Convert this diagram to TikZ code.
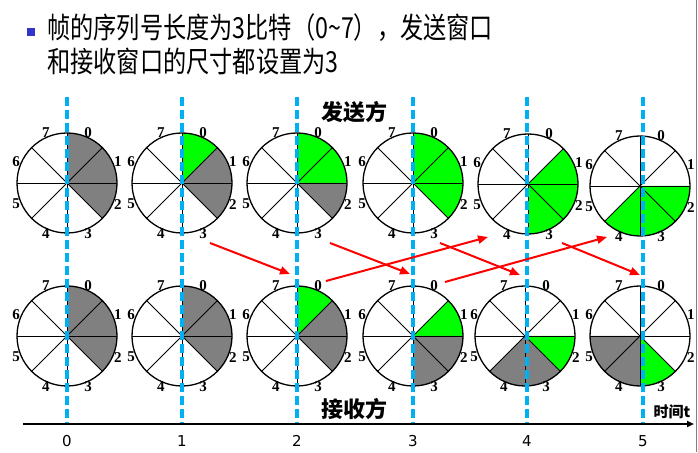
\documentclass[tikz,border=0pt]{standalone}
\usepackage{fontspec}
\setmainfont{Liberation Serif}
\newfontfamily\cjkt{Noto Sans CJK SC}[FakeStretch=0.8]
\newfontfamily\cjk{Noto Sans CJK SC}
\newfontfamily\tickfont{DejaVu Sans}
\usetikzlibrary{arrows.meta,calc}
\definecolor{dashblue}{RGB}{0,176,240}
\definecolor{sgreen}{RGB}{0,255,0}
\definecolor{sgray}{RGB}{128,128,128}
\definecolor{bulletblue}{RGB}{51,51,204}
\newcommand\mywheel[3]{%
  \coordinate (#1) at #2;
  \foreach \k/\c in {#3} {
    \fill[\c] (#1) -- ++({90-45*\k}:50) arc[start angle={90-45*\k}, end angle={45-45*\k}, radius=50] -- cycle;
  }
  \foreach \a in {0,45,...,315} { \draw[spoke] (#1) -- ++(\a:50); }
  \draw[rim] (#1) circle[radius=50];
  \foreach \k in {0,...,7} {
    \node[num] (#1-\k) at ($(#1)+({67.5-45*\k}:55)$) {\k};
  }
}
\begin{document}
\begin{tikzpicture}[x=1pt,y=1pt,
  timeline/.style={dashblue, line width=3.2pt, dash pattern=on 9pt off 4pt},
  msg/.style={red, line width=2pt, -{Triangle[length=10pt,width=8pt]}},
  num/.style={font=\fontsize{15}{15}\selectfont\bfseries, inner sep=0pt},
  spoke/.style={black, line width=0.9pt},
  rim/.style={black, line width=1.3pt},
  ticklab/.style={font=\tickfont\fontsize{15}{15}\selectfont, inner sep=0pt},
  side/.style={font=\cjk\bfseries\fontsize{22}{22}\selectfont, inner sep=0pt},
  title/.style={font=\cjkt\fontsize{29}{29}\selectfont, inner sep=0pt, anchor=base west}
]
\useasboundingbox (0,0) rectangle (698,452);
\fill[white] (0,0) rectangle (698,452);
% right border
\draw[gray, line width=1.5pt] (696.5,0) -- (696.5,452);
% title
\fill[bulletblue] (27,416) rectangle (35,424);
\node[title] (l1) at (47,413) {帧的序列号长度为3比特（0\textasciitilde7），发送窗口};
\node[title] (l2) at (47,379) {和接收窗口的尺寸都设置为3};
% wheels
\mywheel{s1}{(67,269)}{0/sgray,1/sgray,2/sgray}
\mywheel{s2}{(182,269)}{0/sgreen,1/sgray,2/sgray}
\mywheel{s3}{(297,269)}{0/sgreen,1/sgreen,2/sgray}
\mywheel{s4}{(413,269)}{0/sgreen,1/sgreen,2/sgreen}
\mywheel{s5}{(528,268)}{1/sgreen,2/sgreen,3/sgreen}
\mywheel{s6}{(640,266)}{2/sgreen,3/sgreen,4/sgreen}
\mywheel{r1}{(67,116)}{0/sgray,1/sgray,2/sgray}
\mywheel{r2}{(182,116)}{0/sgray,1/sgray,2/sgray}
\mywheel{r3}{(297,116)}{0/sgreen,1/sgray,2/sgray}
\mywheel{r4}{(413,116)}{1/sgreen,2/sgray,3/sgray}
\mywheel{r5}{(525,116)}{2/sgreen,3/sgray,4/sgray}
\mywheel{r6}{(640,116)}{3/sgreen,4/sgray,5/sgray}
% time lines
\foreach \i/\x in {0/67,1/182,2/297,3/413,4/527,5/643} {
  \coordinate (t\i a) at (\x,355);
  \coordinate (t\i b) at (\x,28);
  \draw[timeline] (t\i a) -- (t\i b);
  \node[ticklab] (tick\i) at (\x,11) {\i};
}
% axis
\coordinate (ax0) at (23,28);
\coordinate (ax1) at (694,28);
\draw[black, line width=2pt, -{Triangle[length=7pt,width=6pt]}] (ax0) -- (ax1);
\node[font=\cjk\bfseries\fontsize{15}{15}\selectfont, inner sep=0pt] (tlab) at (672,40) {时间t};
% side labels
\node[side] (sender) at (354,340) {发送方};
\node[side] (receiver) at (354,43) {接收方};
% messages
\coordinate (m1a) at (210,209); \coordinate (m1b) at (290,178);
\coordinate (m2a) at (330,209); \coordinate (m2b) at (410,178);
\coordinate (m3a) at (326,171); \coordinate (m3b) at (488,215);
\coordinate (m4a) at (440,209); \coordinate (m4b) at (520,177);
\coordinate (m5a) at (445,170); \coordinate (m5b) at (607,215);
\coordinate (m6a) at (562,209); \coordinate (m6b) at (640,177);
\foreach \i in {1,...,6} { \draw[msg] (m\i a) -- (m\i b); }
\end{tikzpicture}
\end{document}
